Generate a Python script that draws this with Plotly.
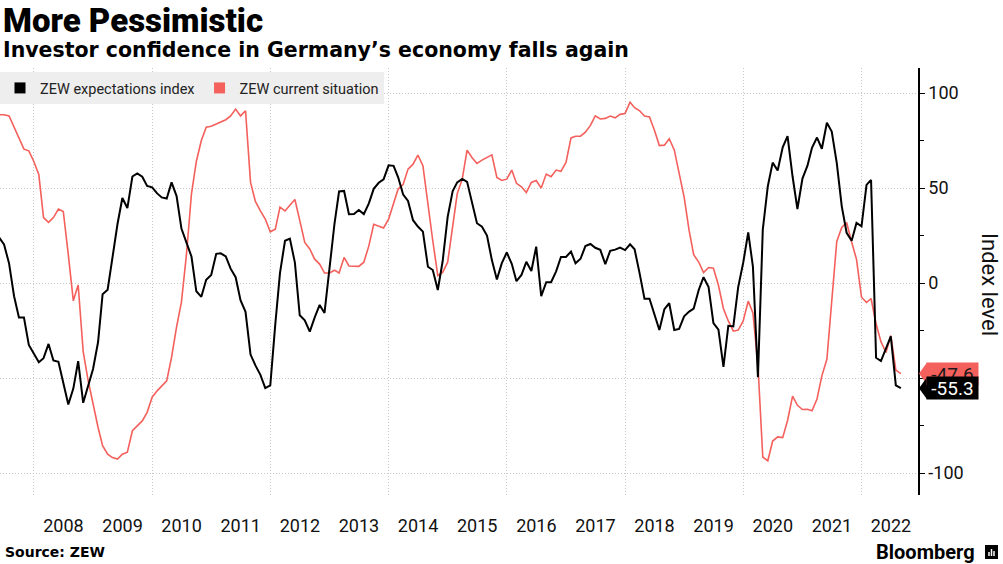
import plotly.graph_objects as go
import pandas as pd

# ---- data (monthly, May 2007 - Aug 2022, plotted at month end) ----
start_month = "2007-05-01"
n_months = 184
months = pd.date_range(start_month, periods=n_months, freq="MS") + pd.offsets.MonthEnd(0)

expectations = [
    # 2007 May-Dec
    24.0, 20.3, 10.4, -6.9, -18.1, -18.1, -32.5, -37.2,
    # 2008
    -41.6, -39.5, -32.0, -40.7, -41.4, -52.4, -63.9, -55.5, -41.1, -63.0, -53.5, -45.2,
    # 2009
    -31.0, -5.8, -3.5, 13.0, 31.1, 44.8, 39.5, 56.1, 57.7, 56.0, 51.1, 50.4,
    # 2010
    47.2, 45.1, 44.5, 53.0, 45.8, 28.7, 21.2, 14.0, -4.3, -7.2, 1.8, 4.3,
    # 2011
    15.4, 15.7, 14.1, 7.6, 3.1, -9.0, -15.1, -37.6, -43.3, -48.3, -55.2, -53.8,
    # 2012
    -21.6, 5.4, 22.3, 23.4, 10.8, -16.9, -19.6, -25.5, -18.2, -11.5, -15.7, 6.9,
    # 2013
    31.5, 48.2, 48.5, 36.3, 36.4, 38.5, 36.3, 42.0, 49.6, 52.8, 54.6, 62.0,
    # 2014
    61.7, 55.7, 46.6, 43.2, 33.1, 29.8, 27.1, 8.6, 6.9, -3.6, 11.5, 34.9,
    # 2015
    48.4, 53.0, 54.8, 53.3, 41.9, 31.5, 29.7, 25.0, 12.1, 1.9, 10.4, 16.1,
    # 2016
    10.2, 1.0, 4.3, 11.2, 6.4, 19.2, -6.8, 0.5, 0.5, 6.2, 13.8, 13.8,
    # 2017
    16.6, 10.4, 12.8, 19.5, 20.6, 18.6, 17.5, 10.0, 17.0, 17.6, 18.7, 17.4,
    # 2018
    20.4, 17.8, 5.1, -8.2, -8.2, -16.1, -24.7, -13.7, -10.6, -24.7, -24.1, -17.5,
    # 2019
    -15.0, -13.4, -3.6, 3.1, -2.1, -21.1, -24.5, -44.1, -22.5, -22.8, -2.1, 10.7,
    # 2020
    26.7, 8.7, -49.5, 28.2, 51.0, 63.4, 59.3, 71.5, 77.4, 56.1, 39.0, 55.0,
    # 2021
    61.8, 71.2, 76.6, 70.7, 84.4, 79.8, 63.3, 40.4, 26.5, 22.3, 31.7, 29.9,
    # 2022 Jan-Aug
    51.7, 54.3, -39.3, -41.0, -34.3, -28.0, -53.8, -55.3,
]

current_situation = [
    # 2007 May-Dec
    88.6, 88.6, 88.0, 82.0, 76.0, 70.5, 69.6, 64.0,
    # 2008
    57.0, 34.5, 32.0, 34.5, 39.0, 37.7, 15.0, -9.3, -1.0, -36.0, -51.0, -64.0,
    # 2009
    -76.0, -85.6, -90.0, -91.8, -92.6, -90.0, -89.0, -77.7, -75.0, -72.5, -68.0, -60.0,
    # 2010
    -56.7, -54.0, -51.4, -39.0, -23.0, -10.0, 15.0, 47.0, 64.0, 75.0, 82.0, 82.5,
    # 2011
    83.7, 85.0, 86.0, 88.0, 91.6, 88.0, 90.7, 53.0, 43.0, 38.0, 33.7, 27.0,
    # 2012
    28.4, 40.0, 38.0, 41.0, 44.0, 33.0, 21.4, 18.0, 12.6, 10.0, 5.3, 5.3,
    # 2013
    6.8, 5.3, 13.5, 9.0, 8.8, 8.8, 11.0, 19.6, 31.0, 29.8, 29.0, 33.7,
    # 2014
    41.6, 49.5, 52.0, 60.0, 62.6, 67.4, 61.8, 40.7, 22.3, 3.9, 5.6, 11.0,
    # 2015
    29.0, 47.0, 54.7, 70.0, 66.0, 63.0, 64.7, 66.0, 67.5, 55.6, 54.0, 54.7,
    # 2016
    59.5, 52.5, 50.7, 47.7, 53.0, 54.0, 50.0, 57.4, 56.0, 59.5, 58.8, 63.5,
    # 2017
    76.4, 77.3, 77.3, 79.4, 83.0, 88.0, 86.4, 86.7, 87.9, 87.0, 88.8, 89.3,
    # 2018
    95.2, 92.3, 90.7, 87.9, 87.4, 80.6, 72.4, 72.6, 76.0, 70.1, 58.2, 45.3,
    # 2019
    27.6, 15.0, 11.1, 5.5, 8.2, 7.8, -1.1, -13.5, -19.9, -25.3, -24.7, -19.9,
    # 2020
    -9.5, -15.7, -43.1, -91.5, -93.5, -83.1, -80.9, -81.3, -72.3, -59.5, -64.3, -66.5,
    # 2021
    -66.4, -67.2, -61.0, -48.8, -40.1, -9.1, 21.9, 29.3, 31.9, 21.6, 12.5, -7.4,
    # 2022 Jan-Aug
    -10.2, -8.1, -21.4, -30.8, -36.5, -27.6, -45.8, -47.6,
]

series_names = ["ZEW expectations index", "ZEW current situation"]
year_labels = [str(y) for y in range(2008, 2023)]
y_ticks = [-100, -50, 0, 50, 100]
# the -50 label sits behind the last-value tags in the reference, so it is left blank
y_tick_labels = ["-100", "", "0", "50", "100"]

# ---- style ----
BLACK = "#000000"
RED = "#f4605c"
GRID = "#c8c8c8"
GRID_DASH = "1px,2px"
FIG_W, FIG_H = 1003, 564
M_L, M_R, M_T, M_B = 0, 85, 68, 69
PLOT_W = FIG_W - M_L - M_R
PLOT_H = FIG_H - M_T - M_B
Y_RANGE = [-111.5, 113.2]
PPU = PLOT_H / (Y_RANGE[1] - Y_RANGE[0])


def px_x(px):
    return (px - M_L) / PLOT_W


def px_y(py):
    return 1 - (py - M_T) / PLOT_H


fig = go.Figure()

fig.add_trace(go.Scatter(x=months, y=current_situation, mode="lines",
                         line=dict(color=RED, width=1.6), showlegend=False,
                         name=series_names[1]))
fig.add_trace(go.Scatter(x=months, y=expectations, mode="lines",
                         line=dict(color=BLACK, width=2), showlegend=False,
                         name=series_names[0]))

# legend entries with square symbols
for name, col in zip(series_names, [BLACK, RED]):
    fig.add_trace(go.Scatter(x=[None], y=[None], mode="markers", name=name,
                             marker=dict(symbol="square", size=11, color=col)))

tick_x = [f"{y}-07-01" for y in range(2008, 2023)]
grid_x = [f"{y}-01-01" for y in range(2008, 2023, 2)]

fig.update_layout(
    width=FIG_W, height=FIG_H,
    margin=dict(l=M_L, r=M_R, t=M_T, b=M_B),
    paper_bgcolor="white", plot_bgcolor="white",
    font=dict(family="Roboto", color="#111111"),
    showlegend=True,
    legend=dict(x=0, y=px_y(72), xanchor="left", yanchor="top",
                orientation="h", bgcolor="#eeeeee",
                font=dict(family="Roboto", size=14.5, color="#222222"),
                itemwidth=30, tracegroupgap=0),
    xaxis=dict(type="date", range=["2007-06-05", "2022-12-15"],
               tickmode="array", tickvals=tick_x, ticktext=year_labels,
               showgrid=False, ticks="", showline=False, zeroline=False,
               tickfont=dict(family="Roboto", size=18, color="#111111"),
               ticklabelstandoff=18,
               minor=dict(tickmode="array", tickvals=grid_x, showgrid=True,
                          gridcolor=GRID, griddash=GRID_DASH, gridwidth=1, ticks="")),
    yaxis=dict(side="right", range=Y_RANGE, tickmode="array", tickvals=y_ticks,
               ticktext=y_tick_labels,
               showgrid=True, gridcolor=GRID, griddash=GRID_DASH, gridwidth=1,
               zeroline=False, showline=True, linecolor=BLACK, linewidth=1.5,
               ticks="outside", ticklen=5, tickcolor=BLACK,
               tickfont=dict(family="Roboto", size=18, color="#111111"),
               minor=dict(dtick=25, tick0=0, ticks="outside", ticklen=4,
                          tickcolor=BLACK, showgrid=False)),
)

annotations = [
    dict(text="More Pessimistic", x=px_x(1), y=px_y(-1), xref="paper", yref="paper",
         xanchor="left", yanchor="top", showarrow=False,
         font=dict(family="Roboto", size=33, weight=900, color="#000000")),
    dict(text="<b>Investor confidence in Germany’s economy falls again</b>",
         x=px_x(1), y=px_y(36), xref="paper", yref="paper",
         xanchor="left", yanchor="top", showarrow=False,
         font=dict(family="DejaVu Sans", size=20.5, color="#000000")),
    dict(text="<b>Source: ZEW</b>", x=px_x(3), y=px_y(542), xref="paper", yref="paper",
         xanchor="left", yanchor="top", showarrow=False,
         font=dict(family="DejaVu Sans", size=14, color="#000000")),
    dict(text="<b>Bloomberg</b>", x=px_x(977), y=px_y(552), xref="paper", yref="paper",
         xanchor="right", yanchor="middle", showarrow=False,
         font=dict(family="Roboto", size=20, color="#000000")),
    dict(text="Index level", x=px_x(990), y=px_y(284), xref="paper", yref="paper",
         xanchor="center", yanchor="middle", textangle=90, showarrow=False,
         font=dict(family="Roboto", size=22, color="#111111")),
]

shapes = []
# last-value tags (red first, black drawn over it)
for vals, col, txtcol in [(current_situation, RED, "#1a1a1a"),
                          (expectations, BLACK, "#ffffff")]:
    v = vals[-1]
    dy = 11 / PPU
    shapes.append(dict(type="path", xref="paper", yref="y",
                       path=f"M {px_x(919)},{v} L {px_x(927)},{v + dy} L {px_x(927)},{v - dy} Z",
                       fillcolor=col, line=dict(width=0), layer="above"))
    annotations.append(dict(text=f"{v:.1f}", x=px_x(926), y=v, xref="paper", yref="y",
                            xanchor="left", yanchor="middle", showarrow=False,
                            bgcolor=col, width=49, height=20, borderpad=1, align="center",
                            font=dict(family="Roboto", size=19, color=txtcol)))

# Bloomberg logo mark
shapes.append(dict(type="rect", xref="paper", yref="paper",
                   x0=px_x(985), x1=px_x(998), y0=px_y(559), y1=px_y(545),
                   fillcolor="#000000", line=dict(width=0)))
for bx, top in [(989, 552), (991.5, 549), (994, 551)]:
    shapes.append(dict(type="line", xref="paper", yref="paper",
                       x0=px_x(bx), x1=px_x(bx), y0=px_y(556), y1=px_y(top),
                       line=dict(color="white", width=1.5)))

fig.update_layout(annotations=annotations, shapes=shapes)

fig.write_html("out.html")
